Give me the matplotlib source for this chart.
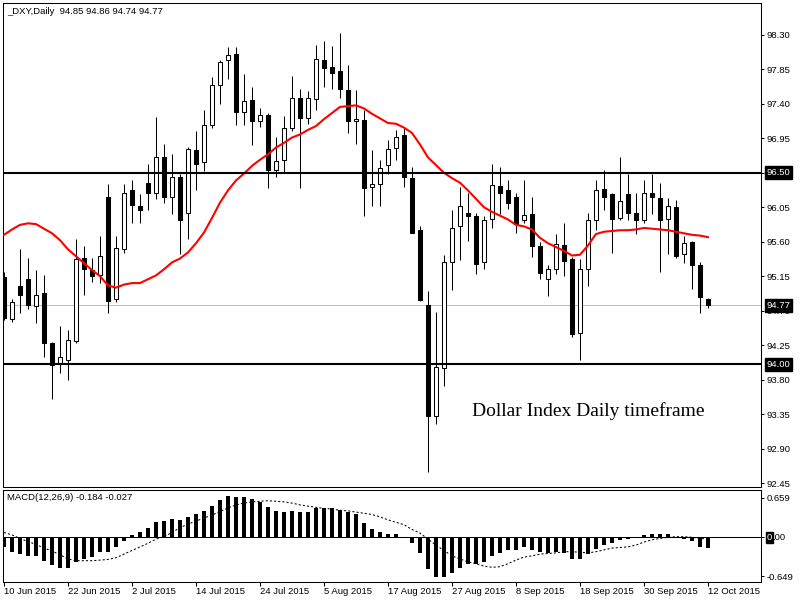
import numpy as np
import matplotlib
matplotlib.use("Agg")
import matplotlib.pyplot as plt
from matplotlib.patches import Rectangle
from matplotlib.transforms import blended_transform_factory

plt.rcParams['font.family'] = ['Liberation Sans', 'DejaVu Sans']

# --- data (DXY daily, 10 Jun - 12 Oct 2015) ---
header_txt = "_DXY,Daily  94.85 94.86 94.74 94.77"
macd_txt = "MACD(12,26,9) -0.184 -0.027"
note_txt = "Dollar Index Daily timeframe"

opens = [95.14, 94.59, 95.02, 95.11, 94.76, 94.93, 94.28, 94.01, 94.06, 94.31,
         95.39, 95.23, 95.16, 96.18, 94.85, 95.51, 96.27, 96.07, 96.37, 96.24,
         96.71, 96.18, 96.44, 95.98, 96.80, 96.64, 97.13, 97.65, 97.97, 98.05,
         97.29, 97.45, 97.17, 97.25, 96.53, 96.67, 97.09, 97.48, 97.22, 97.46,
         97.97, 97.88, 97.83, 97.58, 97.17, 97.19, 96.31, 96.35, 96.60, 96.82,
         96.99, 96.43, 95.75, 94.77, 93.33, 93.95, 95.33, 95.80, 95.98, 95.93,
         95.33, 95.90, 96.33, 96.28, 96.19, 95.88, 95.96, 95.55, 95.11, 95.24,
         95.56, 95.37, 94.41, 95.24, 95.89, 96.29, 96.22, 95.91, 96.22, 95.98,
         95.88, 96.24, 96.17, 95.90, 96.05, 95.44, 95.59, 95.29, 94.85]
highs = [95.20, 94.85, 95.50, 95.39, 95.23, 95.17, 94.29, 94.50, 94.45, 95.63,
         95.54, 95.39, 95.67, 96.36, 95.67, 96.35, 96.41, 96.22, 96.61, 97.23,
         96.87, 96.74, 96.48, 96.84, 97.05, 97.32, 97.75, 97.97, 98.14, 98.14,
         97.79, 97.62, 97.34, 97.28, 96.97, 97.24, 97.76, 97.59, 97.57, 98.17,
         98.22, 98.15, 98.32, 97.91, 97.58, 97.32, 96.80, 96.67, 96.93, 97.06,
         97.09, 96.58, 95.81, 94.96, 94.68, 95.43, 96.02, 96.31, 96.23, 95.97,
         95.94, 96.61, 96.58, 96.41, 96.24, 96.41, 96.19, 95.60, 95.29, 95.70,
         95.85, 95.40, 95.37, 95.98, 96.40, 96.54, 96.24, 96.70, 96.48, 96.23,
         96.41, 96.48, 96.37, 96.17, 96.15, 95.68, 95.61, 95.33, 94.86]
lows = [94.58, 94.55, 94.67, 94.72, 94.54, 94.10, 93.55, 93.89, 93.80, 94.28,
        94.91, 95.07, 95.06, 94.67, 94.81, 95.45, 95.85, 95.85, 96.02, 96.16,
        96.10, 95.96, 95.44, 95.63, 96.27, 96.52, 97.09, 97.40, 97.73, 97.12,
        97.12, 96.86, 97.10, 96.30, 96.45, 96.50, 97.05, 96.30, 97.14, 97.32,
        97.62, 97.60, 97.48, 97.02, 96.87, 95.93, 96.06, 96.07, 96.49, 96.67,
        96.32, 95.72, 94.83, 92.60, 93.22, 93.71, 94.97, 95.36, 95.61, 95.18,
        95.25, 95.78, 95.96, 96.03, 95.72, 95.84, 95.40, 95.11, 94.89, 95.18,
        95.15, 94.35, 94.05, 95.02, 95.75, 96.01, 95.45, 95.88, 95.88, 95.70,
        95.84, 95.96, 95.20, 95.44, 95.39, 95.32, 94.98, 94.67, 94.74]
closes = [94.60, 94.81, 94.91, 94.77, 94.91, 94.28, 93.99, 94.09, 94.32, 95.38,
          95.24, 95.15, 95.42, 94.83, 95.52, 96.24, 96.08, 96.02, 96.23, 96.70,
          96.18, 96.45, 95.89, 96.81, 96.62, 97.13, 97.64, 97.94, 98.04, 97.30,
          97.44, 97.17, 97.26, 96.53, 96.65, 97.09, 97.47, 97.21, 97.47, 97.98,
          97.87, 97.80, 97.60, 97.17, 97.20, 96.30, 96.36, 96.56, 96.81, 96.97,
          96.44, 95.72, 94.84, 93.33, 93.96, 95.34, 95.78, 96.07, 95.93, 95.31,
          95.89, 96.34, 96.23, 96.11, 95.83, 95.95, 95.54, 95.19, 95.24, 95.57,
          95.35, 94.40, 95.24, 95.88, 96.28, 96.19, 95.90, 96.13, 95.98, 95.89,
          96.24, 96.18, 95.89, 96.06, 95.42, 95.58, 95.30, 94.88, 94.77]
ma_red = [95.69, 95.76, 95.82, 95.84, 95.83, 95.77, 95.71, 95.62, 95.50, 95.41,
          95.32, 95.23, 95.15, 95.03, 95.00, 95.04, 95.06, 95.06, 95.11, 95.16,
          95.24, 95.33, 95.38, 95.46, 95.58, 95.72, 95.91, 96.11, 96.27, 96.40,
          96.49, 96.59, 96.67, 96.74, 96.83, 96.89, 96.96, 97.00, 97.06, 97.11,
          97.20, 97.28, 97.36, 97.37, 97.38, 97.34, 97.27, 97.21, 97.15, 97.14,
          97.09, 97.02, 96.87, 96.70, 96.60, 96.50, 96.43, 96.37, 96.27, 96.16,
          96.05, 95.99, 95.94, 95.89, 95.82, 95.80, 95.76, 95.65, 95.58, 95.53,
          95.48, 95.42, 95.43, 95.55, 95.70, 95.73, 95.74, 95.75, 95.75, 95.76,
          95.78, 95.77, 95.76, 95.75, 95.73, 95.71, 95.69, 95.68, 95.66]
macd_hist = [-0.17, -0.24, -0.28, -0.32, -0.32, -0.39, -0.47, -0.51, -0.52, -0.42,
             -0.36, -0.33, -0.24, -0.24, -0.17, -0.06, 0.04, 0.08, 0.15, 0.25,
             0.27, 0.31, 0.29, 0.33, 0.38, 0.43, 0.52, 0.62, 0.69, 0.67,
             0.67, 0.64, 0.59, 0.50, 0.43, 0.42, 0.43, 0.42, 0.42, 0.48,
             0.48, 0.48, 0.46, 0.42, 0.38, 0.24, 0.13, 0.09, 0.06, 0.06,
             0.01, -0.10, -0.27, -0.53, -0.67, -0.66, -0.59, -0.51, -0.45, -0.44,
             -0.41, -0.31, -0.26, -0.21, -0.21, -0.17, -0.21, -0.25, -0.26, -0.25,
             -0.27, -0.36, -0.36, -0.28, -0.19, -0.13, -0.09, -0.04, -0.03, -0.02,
             0.04, 0.06, 0.06, 0.06, 0.00, -0.03, -0.07, -0.16, -0.184]
macd_signal = [0.08, 0.04, -0.02, -0.07, -0.12, -0.18, -0.23, -0.29, -0.36, -0.39,
               -0.39, -0.39, -0.38, -0.37, -0.34, -0.28, -0.22, -0.16, -0.10, -0.03,
               0.01, 0.08, 0.16, 0.22, 0.27, 0.32, 0.37, 0.43, 0.49, 0.54,
               0.57, 0.59, 0.60, 0.61, 0.60, 0.59, 0.57, 0.54, 0.52, 0.50,
               0.48, 0.47, 0.45, 0.44, 0.42, 0.40, 0.38, 0.34, 0.29, 0.25,
               0.21, 0.13, 0.07, -0.03, -0.13, -0.22, -0.31, -0.36, -0.41, -0.44,
               -0.48, -0.50, -0.49, -0.44, -0.38, -0.33, -0.31, -0.28, -0.27, -0.26,
               -0.24, -0.24, -0.25, -0.26, -0.24, -0.21, -0.18, -0.17, -0.16, -0.13,
               -0.08, -0.04, -0.02, 0.00, 0.01, 0.01, 0.00, -0.02, -0.027]

date_labels = ["10 Jun 2015", "22 Jun 2015", "2 Jul 2015", "14 Jul 2015",
               "24 Jul 2015", "5 Aug 2015", "17 Aug 2015", "27 Aug 2015",
               "8 Sep 2015", "18 Sep 2015", "30 Sep 2015", "12 Oct 2015"]
bars_per_label = 8
price_ticks = [98.30, 97.85, 97.40, 96.95, 96.50, 96.05, 95.60, 95.15,
               94.70, 94.25, 93.80, 93.35, 92.90, 92.45]
levels = [96.50, 94.00]
last_price = 94.77
macd_ticks = [0.659, 0.0, -0.649]
note_bar, note_price = 58.5, 93.39

FS = 6.8
TL, TP = 2.5, 1.5   # tick length / pad (points)

fig = plt.figure(figsize=(8, 6), dpi=100)
ax = fig.add_axes([2.7/800, 1 - 487.3/600, 758.3/800, 484.8/600])
am = fig.add_axes([2.7/800, 1 - 581.7/600, 758.3/800, 91.7/600])

x = np.arange(len(closes))

# candles
ax.vlines(x, lows, highs, color='black', lw=0.75, zorder=2)
for i in x:
    o, c = opens[i], closes[i]
    bottom = min(o, c)
    h = max(abs(c - o), 0.012)
    fc = 'white' if c >= o else 'black'
    ax.add_patch(Rectangle((i - 0.27, bottom), 0.54, h, facecolor=fc,
                           edgecolor='black', lw=0.75, zorder=3))

ax.plot(x, ma_red, color='red', lw=1.5, zorder=4)
for lv in levels:
    ax.axhline(lv, color='black', lw=1.5, zorder=5)
ax.axhline(last_price, color='#c0c0c0', lw=0.75, zorder=1)

ax.text(note_bar, note_price, note_txt, ha='left', va='center',
        fontfamily='Liberation Serif', fontsize=14, zorder=6)
ax.text(4/758.3, 1 - 8.5/484.8, header_txt, transform=ax.transAxes,
        ha='left', va='center', fontsize=FS)

ax.set_xlim(-0.1625, 94.63)
ax.set_ylim(92.394, 98.723)
ax.yaxis.tick_right()
ax.set_yticks(price_ticks)
ax.set_yticklabels(['%.2f' % p for p in price_ticks])
ax.tick_params(axis='y', direction='out', length=TL, width=0.75, pad=TP,
               labelsize=FS, right=True, left=False)
ax.tick_params(axis='x', bottom=False, labelbottom=False)

trans = blended_transform_factory(ax.transAxes, ax.transData)
for p in levels + [last_price]:
    ax.annotate('%.2f' % p, xy=(1, p), xycoords=trans,
                xytext=(TL + TP, 0), textcoords='offset points',
                ha='left', va='center', color='white', fontsize=FS,
                bbox=dict(boxstyle='square,pad=0.2', fc='black', ec='black'),
                annotation_clip=False, zorder=10)

# MACD panel
am.bar(x, macd_hist, width=0.42, color='black', zorder=2)
am.plot(x, macd_signal, color='black', lw=0.75, ls=(0, (2, 2)), zorder=3)
am.axhline(0, color='black', lw=0.75, zorder=1)
am.text(4/758.3, 1 - 8/91.7, macd_txt, transform=am.transAxes,
        ha='left', va='center', fontsize=FS)
am.set_xlim(-0.1625, 94.63)
am.set_ylim(-0.74, 0.788)
am.yaxis.tick_right()
am.set_yticks(macd_ticks)
am.set_yticklabels(['0.659', '', '-0.649'])
am.tick_params(axis='y', direction='out', length=TL, width=0.75, pad=TP,
               labelsize=FS, right=True, left=False)
# zero level label: first digit boxed, rest plain
transm = blended_transform_factory(am.transAxes, am.transData)
am.annotate('0', xy=(1, 0), xycoords=transm, xytext=(TL + TP, 0),
            textcoords='offset points', ha='left', va='center', color='white',
            fontsize=FS, bbox=dict(boxstyle='square,pad=0.1', fc='black', ec='black'),
            annotation_clip=False, zorder=10)
am.annotate('.00', xy=(1, 0), xycoords=transm,
            xytext=(TL + TP + 0.556 * FS + 0.3, 0),
            textcoords='offset points', ha='left', va='center', color='black',
            fontsize=FS, annotation_clip=False, zorder=10)

am.set_xticks(np.arange(len(date_labels)) * bars_per_label)
am.set_xticklabels(date_labels, ha='left')
am.tick_params(axis='x', direction='out', length=3, width=0.75, pad=1, labelsize=FS)

for a in (ax, am):
    for s in a.spines.values():
        s.set_linewidth(0.75)
        s.set_color('black')

fig.savefig('out.png', dpi=100)
